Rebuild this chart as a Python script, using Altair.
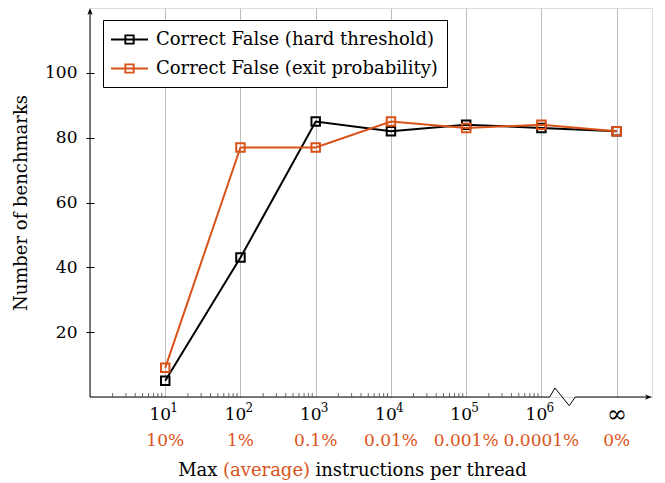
import altair as alt
import pandas as pd
import numpy as np

# ---- data -------------------------------------------------------------
positions = [1, 2, 3, 4, 5, 6, 7]          # log10 positions, 7 = infinity (after axis break)
hard = [5, 43, 85, 82, 84, 83, 82]
exitp = [9, 77, 77, 85, 83, 84, 82]
series_names = ["Correct False (hard threshold)", "Correct False (exit probability)"]
colors = ["#000000", "#D95319"]
tick_base = ["10", "10", "10", "10", "10", "10", "∞"]
tick_sup = ["1", "2", "3", "4", "5", "6", ""]
pct_labels = ["10%", "1%", "0.1%", "0.01%", "0.001%", "0.0001%", "0%"]
y_ticks = [20, 40, 60, 80, 100]
minor_ticks = [d + np.log10(k) for d in range(0, 6) for k in range(2, 10)]
# x-axis line with the break zig-zag (data units)
axis_x = [0, 6.11, 6.18, 6.37, 6.45, 7.42]
axis_y = [0, 0, 2.8, -2.7, 0, 0]

W, H = 562, 389
XMAX, YMAX = 7.47, 120
FONT = "DejaVu Serif"
ORANGE = "#D95319"

df = pd.DataFrame({
    "x": positions * 2,
    "y": hard + exitp,
    "series": [series_names[0]] * len(hard) + [series_names[1]] * len(exitp),
})
labels_df = pd.DataFrame({"x": positions, "base": tick_base, "sup": tick_sup, "pct": pct_labels})
minor_df = pd.DataFrame({"x": minor_ticks})
axis_df = pd.DataFrame({"x": axis_x, "y": axis_y, "o": list(range(len(axis_x)))})
one = pd.DataFrame({"a": [0]})

xs = alt.Scale(domain=[0, XMAX], nice=False, zero=False)
ys = alt.Scale(domain=[0, YMAX], nice=False)

x_axis = alt.Axis(values=positions, grid=True, labels=False, ticks=False, domain=False,
                  title=None, gridColor="#bdbdbd", gridWidth=1)
y_axis = alt.Axis(values=y_ticks, grid=False, domain=False, tickSize=8, offset=-4,
                  tickColor="black", tickWidth=1, labelPadding=9,
                  labelFont=FONT, labelFontSize=17, labelColor="black",
                  title="Number of benchmarks", titleFont=FONT, titleFontSize=18,
                  titleFontWeight="normal", titleColor="black", titlePadding=14)

legend_path = "M-2,0H2M-0.45,-0.45H0.45V0.45H-0.45Z"
legend = alt.Legend(orient="none", legendX=13, legendY=12, title=None, direction="vertical",
                    symbolType=legend_path, symbolSize=342, symbolStrokeWidth=1.9,
                    symbolFillColor="transparent", symbolOffset=7,
                    labelFont=FONT, labelFontSize=18, labelColor="black", labelLimit=1000,
                    labelOffset=16, padding=9, rowPadding=9,
                    strokeColor="black", fillColor="white", cornerRadius=0)
color = alt.Color("series:N", scale=alt.Scale(domain=series_names, range=colors), legend=legend)

X = alt.X("x:Q", scale=xs, axis=x_axis)
Y = alt.Y("y:Q", scale=ys, axis=y_axis)

base = alt.Chart(df)
layers = []
for name in series_names:
    s = base.transform_filter(alt.datum.series == name)
    layers.append(s.mark_line(strokeWidth=2).encode(x=X, y=Y, color=color))
    layers.append(s.mark_point(shape="square", size=72, filled=False, strokeWidth=2,
                               opacity=1).encode(x=X, y=Y, color=color))

# axis lines and arrows
xline = alt.Chart(axis_df).mark_line(color="black", strokeWidth=1, clip=False).encode(
    x=alt.X("x:Q", scale=xs, axis=x_axis), y=alt.Y("y:Q", scale=ys, axis=y_axis), order="o:Q")
yline = alt.Chart(one).mark_rule(color="black", strokeWidth=1).encode(
    x=alt.datum(0, scale=xs), y=alt.datum(0, scale=ys), y2=alt.datum(118.5))
arrow_r = alt.Chart(one).mark_point(shape="M1,0L-1,-0.75L-0.45,0L-1,0.75Z", size=49,
                                    filled=True, color="black", opacity=1).encode(
    x=alt.datum(7.423, scale=xs), y=alt.datum(0, scale=ys))
arrow_u = alt.Chart(one).mark_point(shape="M0,-1L-0.75,1L0,0.45L0.75,1Z", size=49,
                                    filled=True, color="black", opacity=1).encode(
    x=alt.datum(0, scale=xs), y=alt.datum(118.9, scale=ys))
minor = alt.Chart(minor_df).mark_rule(color="#444444", strokeWidth=0.8).encode(
    x=alt.X("x:Q", scale=xs, axis=x_axis), y=alt.value(H), y2=alt.value(H - 4))

# x tick labels
lab = alt.Chart(labels_df)
pow_base = lab.transform_filter("datum.sup != ''").mark_text(
    font=FONT, fontSize=17, color="black", align="center", baseline="middle", dx=-5).encode(
    x=alt.X("x:Q", scale=xs, axis=x_axis), y=alt.value(H + 18), text="base:N")
pow_sup = lab.transform_filter("datum.sup != ''").mark_text(
    font=FONT, fontSize=12, color="black", align="left", baseline="middle", dx=5).encode(
    x=alt.X("x:Q", scale=xs, axis=x_axis), y=alt.value(H + 11), text="sup:N")
inf_lab = lab.transform_filter("datum.sup == ''").mark_text(
    font=FONT, fontSize=24, color="black", align="center", baseline="middle").encode(
    x=alt.X("x:Q", scale=xs, axis=x_axis), y=alt.value(H + 18), text="base:N")
pct = lab.mark_text(font=FONT, fontSize=17, color=ORANGE, align="center", baseline="middle").encode(
    x=alt.X("x:Q", scale=xs, axis=x_axis), y=alt.value(H + 44), text="pct:N")

# x title with coloured word
tx = 176.5
t1 = alt.Chart(one).mark_text(font=FONT, fontSize=18, color="black", align="right",
                              baseline="middle", dx=-49).encode(
    x=alt.value(tx), y=alt.value(H + 74), text=alt.value("Max"))
t2 = alt.Chart(one).mark_text(font=FONT, fontSize=18, color=ORANGE, align="center",
                              baseline="middle").encode(
    x=alt.value(tx), y=alt.value(H + 74), text=alt.value("(average)"))
t3 = alt.Chart(one).mark_text(font=FONT, fontSize=18, color="black", align="left",
                              baseline="middle", dx=49).encode(
    x=alt.value(tx), y=alt.value(H + 74), text=alt.value("instructions per thread"))

chart = alt.layer(xline, minor, yline, arrow_r, arrow_u, *layers,
                  pow_base, pow_sup, inf_lab, pct, t1, t2, t3).properties(
    width=W, height=H,
    autosize=alt.AutoSizeParams(type="none"),
    padding={"left": 82, "top": 0, "right": 5, "bottom": 86},
).configure_view(stroke=None).configure(background="white")

chart.save("out.html", embed_options={"renderer": "svg", "actions": False})
